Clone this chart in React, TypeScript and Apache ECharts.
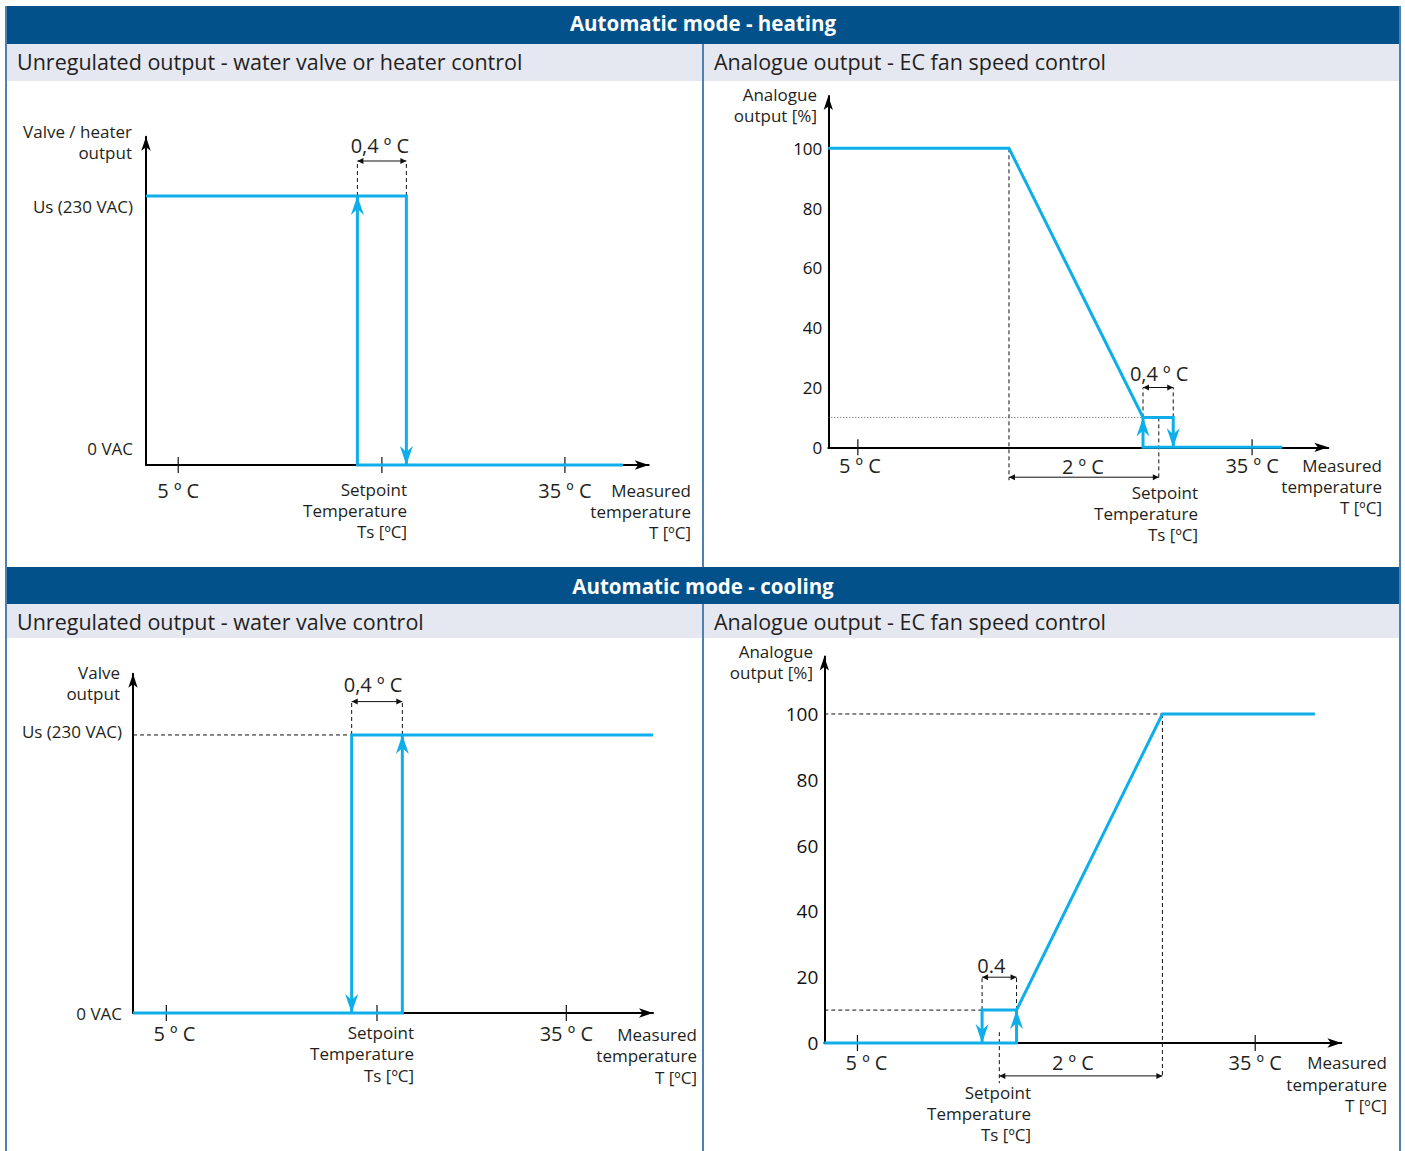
import React, { useEffect, useRef } from 'react';
import * as echarts from 'echarts';

const BLUE = '#0eaeea';
const INK = '#231f20';
const NAVY = '#02518a';
const PALE = '#e6e8f1';
const FRAME = '#4f80b0';
const FONT = '"Open Sans", "Noto Sans", sans-serif';

// ---- texts ----
const headerTitles = ['Automatic mode - heating', 'Automatic mode - cooling'];
const panelTitles = [
  'Unregulated output - water valve or heater control',
  'Analogue output - EC fan speed control',
  'Unregulated output - water valve control',
  'Analogue output - EC fan speed control',
];
const setpointLines = ['Setpoint', 'Temperature', 'Ts [ºC]'];
const measuredLines = ['Measured', 'temperature', 'T [ºC]'];
const valveHeaterName = ['Valve / heater', 'output'];
const valveName = ['Valve', 'output'];
const analogueName = ['Analogue', 'output [%]'];
const levelLabels = ['0 VAC', 'Us (230 VAC)'];
const ecYLabels = [0, 20, 40, 60, 80, 100];
const tempTickLabels = [5, 35];
const hystLabel = '0,4 º C';
const hystLabelCooling = '0.4';
const spanLabel = '2 º C';

// ---- panel 1: heating, unregulated (0 = 0 VAC, 1 = Us) ----
const p1X = [2.5, 41.5];
const p1Y = [0, 1.22];
const p1Ticks = [5, 20.8, 35];
const p1OffPath = [[2.5, 1], [22.7, 1], [22.7, 0]];
const p1OnPath = [[39.5, 0], [18.9, 0], [18.9, 1]];
const p1Band = [18.9, 22.7];
const p1BandDim = 1.13;

// ---- panel 2: heating, analogue [%] ----
const p2X = [2.75, 40.8];
const p2Y = [0, 117.5];
const p2Ticks = [5, 35];
const p2RampPath = [[2.75, 100], [16.5, 100], [26.7, 10], [29.0, 10], [29.0, 0]];
const p2OnPath = [[37.3, 0], [26.7, 0], [26.7, 10]];
const p2Band = [26.7, 29.0];
const p2BandLevel = 10;
const p2BandDim = 20;
const p2Span = [16.5, 27.9]; // ramp start -> setpoint (2 ºC)
const p2SpanDim = -10;
const p2GuideBottom = -11;

// ---- panel 3: cooling, unregulated ----
const p3X = [2.5, 41.5];
const p3Y = [0, 1.22];
const p3Ticks = [5, 20.8, 35];
const p3OffPath = [[41.5, 1], [18.9, 1], [18.9, 0]];
const p3OnPath = [[2.5, 0], [22.7, 0], [22.7, 1]];
const p3Band = [18.9, 22.7];
const p3BandDim = 1.12;

// ---- panel 4: cooling, analogue [%] ----
const p4X = [2.5, 41.5];
const p4Y = [0, 117.5];
const p4Ticks = [5, 35];
const p4RampPath = [[2.5, 0], [17.0, 0], [17.0, 10], [28.0, 100], [39.5, 100]];
const p4OffPath = [[17.0, 10], [14.4, 10], [14.4, 0]];
const p4Band = [14.4, 17.0];
const p4BandLevel = 10;
const p4BandDim = 20;
const p4Span = [15.7, 28.0]; // setpoint -> full output (2 ºC)
const p4SpanDim = -10;
const p4SetpointGuide = [3.3, -12.2];
const p4RampEndBottom = -10.3;

// ---- drawing helpers ----
const DASH = { stroke: '#111', lineWidth: 1, lineDash: [4, 3] };
const DOT = { stroke: '#555', lineWidth: 1, lineDash: [1, 2] };

function seg(api: any, a: number[], b: number[], style: any) {
  const p = api.coord(a);
  const q = api.coord(b);
  return { type: 'line', shape: { x1: p[0], y1: p[1], x2: q[0], y2: q[1] }, style };
}
function tick(api: any, x: number) {
  const p = api.coord([x, 0]);
  return { type: 'line', shape: { x1: p[0], y1: p[1] - 8, x2: p[0], y2: p[1] + 8 }, style: { stroke: '#111', lineWidth: 1.2 } };
}
function dim(api: any, x1: number, x2: number, y: number) {
  const p = api.coord([x1, y]);
  const q = api.coord([x2, y]);
  return [
    { type: 'line', shape: { x1: p[0], y1: p[1], x2: q[0], y2: q[1] }, style: { stroke: '#111', lineWidth: 1 } },
    { type: 'polygon', shape: { points: [[p[0], p[1]], [p[0] + 6, p[1] - 3], [p[0] + 6, p[1] + 3]] }, style: { fill: '#111' } },
    { type: 'polygon', shape: { points: [[q[0], q[1]], [q[0] - 6, q[1] - 3], [q[0] - 6, q[1] + 3]] }, style: { fill: '#111' } },
  ];
}
function label(api: any, x: number, y: number, dx: number, dy: number, text: string) {
  const p = api.coord([x, y]);
  return {
    type: 'text', x: p[0] + dx, y: p[1] + dy,
    style: { text, fill: INK, font: `20px ${FONT}`, align: 'center', verticalAlign: 'middle', textAlign: 'center', textVerticalAlign: 'middle' },
  };
}
function head(api: any, x: number, y: number, up: boolean) {
  const p = api.coord([x, y]);
  const s = up ? 1 : -1;
  return {
    type: 'polygon',
    shape: { points: [[p[0], p[1]], [p[0] + 6.5, p[1] + 19 * s], [p[0], p[1] + 13 * s], [p[0] - 6.5, p[1] + 19 * s]] },
    style: { fill: BLUE },
  };
}
const mid = (r: number[]) => (r[0] + r[1]) / 2;

// ---- per-panel annotations ----
const annotate = [
  (api: any) => [
    ...p1Ticks.map((t) => tick(api, t)),
    seg(api, [p1Band[0], 1], [p1Band[0], p1BandDim], DASH),
    seg(api, [p1Band[1], 1], [p1Band[1], p1BandDim], DASH),
    ...dim(api, p1Band[0], p1Band[1], p1BandDim),
    label(api, mid(p1Band), p1BandDim, -2, -16, hystLabel),
  ],
  (api: any) => [
    ...p2Ticks.map((t) => tick(api, t)),
    seg(api, [p2Span[0], 100], [p2Span[0], p2GuideBottom], DASH),
    seg(api, [p2X[0], p2BandLevel], [p2Band[0], p2BandLevel], DOT),
    seg(api, [p2Band[0], p2BandLevel], [p2Band[0], p2BandDim], DASH),
    seg(api, [p2Band[1], p2BandLevel], [p2Band[1], p2BandDim], DASH),
    ...dim(api, p2Band[0], p2Band[1], p2BandDim),
    label(api, mid(p2Band), p2BandDim, 1, -14, hystLabel),
    seg(api, [p2Span[1], p2BandLevel], [p2Span[1], p2GuideBottom], DASH),
    ...dim(api, p2Span[0], p2Span[1], p2SpanDim),
    label(api, mid(p2Span), p2SpanDim, -1, -11, spanLabel),
  ],
  (api: any) => [
    ...p3Ticks.map((t) => tick(api, t)),
    seg(api, [p3X[0], 1], [p3Band[0], 1], DASH),
    seg(api, [p3Band[0], 1], [p3Band[0], p3BandDim], DASH),
    seg(api, [p3Band[1], 1], [p3Band[1], p3BandDim], DASH),
    ...dim(api, p3Band[0], p3Band[1], p3BandDim),
    label(api, mid(p3Band), p3BandDim, -4, -17, hystLabel),
  ],
  (api: any) => [
    ...p4Ticks.map((t) => tick(api, t)),
    seg(api, [p4X[0], 100], [p4Span[1], 100], DASH),
    seg(api, [p4Span[1], 100], [p4Span[1], p4RampEndBottom], DASH),
    seg(api, [p4X[0], p4BandLevel], [p4Band[0], p4BandLevel], DASH),
    seg(api, [p4Band[0], p4BandLevel], [p4Band[0], p4BandDim], DASH),
    seg(api, [p4Band[1], p4BandLevel], [p4Band[1], p4BandDim], DASH),
    ...dim(api, p4Band[0], p4Band[1], p4BandDim),
    label(api, mid(p4Band), p4BandDim, -8, -12, hystLabelCooling),
    seg(api, [p4Span[0], p4SetpointGuide[0]], [p4Span[0], p4SetpointGuide[1]], DASH),
    ...dim(api, p4Span[0], p4Span[1], p4SpanDim),
    label(api, mid(p4Span), p4SpanDim, -8, -13, spanLabel),
  ],
];
const arrowHeads = [
  (api: any) => [head(api, p1Band[0], 1, true), head(api, p1Band[1], 0, false)],
  (api: any) => [head(api, p2Band[0], p2BandLevel, true), head(api, p2Band[1], 0, false)],
  (api: any) => [head(api, p3Band[0], 0, false), head(api, p3Band[1], 1, true)],
  (api: any) => [head(api, p4Band[0], 0, false), head(api, p4Band[1], p4BandLevel, true)],
];

const grids = [
  { left: 146, top: 136.8, width: 502.7, height: 328.2 },
  { left: 828.3, top: 96.0, width: 500.0, height: 351.3 },
  { left: 133, top: 673.8, width: 520, height: 339.2 },
  { left: 824.3, top: 656.4, width: 517.1, height: 386.6 },
];
const xRanges = [p1X, p2X, p3X, p4X];
const yRanges = [p1Y, p2Y, p3Y, p4Y];
const xLabelMargins = [15, 8, 10, 9];
// left padding of the "5 º C" label (shifts it right of its tick in the lower panels)
const firstLabelShift = [0, 4, 16, 18];
const yLabelSizes = [17, 17, 17, 19];
const bluePaths = [
  [p1OffPath, p1OnPath],
  [p2RampPath, p2OnPath],
  [p3OffPath, p3OnPath],
  [p4RampPath, p4OffPath],
];

function txt(x: number, y: number, text: string, size: number, align: string, color = INK, weight = 'normal') {
  return {
    type: 'text', x, y, silent: true,
    style: {
      text, fill: color, font: `${weight} ${size}px ${FONT}`,
      align, verticalAlign: 'middle', textAlign: align, textVerticalAlign: 'middle',
    },
  };
}
function multi(x: number, ys: number[], lines: string[], size = 17) {
  return lines.map((l, i) => txt(x, ys[i], l, size, 'right'));
}
function vline(x: number, y1: number, y2: number, color: string, w: number) {
  return { type: 'line', silent: true, shape: { x1: x, y1, x2: x, y2 }, style: { stroke: color, lineWidth: w } };
}

function buildGraphic() {
  const els: any[] = [
    { type: 'rect', shape: { x: 5, y: 6, width: 1396, height: 38 }, style: { fill: NAVY } },
    { type: 'rect', shape: { x: 5, y: 44, width: 1396, height: 37 }, style: { fill: PALE } },
    { type: 'rect', shape: { x: 5, y: 567, width: 1396, height: 37 }, style: { fill: NAVY } },
    { type: 'rect', shape: { x: 5, y: 604, width: 1396, height: 34 }, style: { fill: PALE } },
    vline(6, 6, 1151, FRAME, 2),
    vline(1400, 6, 1151, FRAME, 2),
    vline(703, 44, 567, FRAME, 2),
    vline(703, 604, 1151, FRAME, 2),
    txt(703, 23, headerTitles[0], 20.5, 'center', '#ffffff', 'bold'),
    txt(703, 586, headerTitles[1], 20.5, 'center', '#ffffff', 'bold'),
    txt(17, 61, panelTitles[0], 21.5, 'left'),
    txt(714, 61, panelTitles[1], 21.5, 'left'),
    txt(17, 621, panelTitles[2], 21.5, 'left'),
    txt(714, 621, panelTitles[3], 21.5, 'left'),
    // panel 1
    ...multi(132, [131, 152], valveHeaterName),
    txt(133, 206, levelLabels[1], 17, 'right'),
    txt(133, 448, levelLabels[0], 17, 'right'),
    ...multi(407, [489, 510, 531], setpointLines),
    ...multi(691, [490, 511, 532], measuredLines),
    // panel 2
    ...multi(817, [94, 115], analogueName),
    ...multi(1198, [492, 513, 534], setpointLines),
    ...multi(1382, [465, 486, 507], measuredLines),
    // panel 3
    ...multi(120, [672, 693], valveName),
    txt(122, 731, levelLabels[1], 17, 'right'),
    txt(122, 1013, levelLabels[0], 17, 'right'),
    ...multi(414, [1032, 1053, 1075], setpointLines),
    ...multi(697, [1034, 1055, 1077], measuredLines),
    // panel 4
    ...multi(813, [651, 672], analogueName),
    ...multi(1031, [1092, 1113, 1134], setpointLines),
    ...multi(1387, [1062, 1084, 1105], measuredLines),
  ];
  return els;
}

function buildOption(): any {
  const series: any[] = [];
  for (let i = 0; i < 4; i++) {
    series.push({
      type: 'custom', xAxisIndex: i, yAxisIndex: i, z: 1, silent: true, clip: false,
      data: [[xRanges[i][0], 0]],
      renderItem: (_p: any, api: any) => ({ type: 'group', children: annotate[i](api) }),
    });
    bluePaths[i].forEach((path, k) => {
      series.push({
        type: 'line', name: `output ${i}-${k}`, xAxisIndex: i, yAxisIndex: i, data: path,
        symbol: 'none', clip: false, silent: true, z: 3,
        lineStyle: { color: BLUE, width: 3, join: 'miter' }, itemStyle: { color: BLUE },
      });
    });
    series.push({
      type: 'custom', xAxisIndex: i, yAxisIndex: i, z: 4, silent: true, clip: false,
      data: [[xRanges[i][0], 0]],
      renderItem: (_p: any, api: any) => ({ type: 'group', children: arrowHeads[i](api) }),
    });
  }
  const axisLine = {
    show: true, onZero: false, symbol: ['none', 'arrow'], symbolSize: [7, 14],
    lineStyle: { color: '#000', width: 2 },
  };
  return {
    animation: false,
    textStyle: { fontFamily: FONT },
    graphic: { elements: buildGraphic() },
    grid: grids.map((g) => ({ ...g, containLabel: false, outerBoundsMode: 'none' })),
    xAxis: grids.map((_, i) => ({
      type: 'value', gridIndex: i, min: xRanges[i][0], max: xRanges[i][1],
      axisLine, axisTick: { show: false }, splitLine: { show: false },
      axisLabel: {
        customValues: tempTickLabels,
        formatter: (v: number) => (v === tempTickLabels[0] ? `{first|${v} º C}` : `{other|${v} º C}`),
        rich: {
          first: { fontSize: 20, color: INK, fontFamily: FONT, padding: [0, 0, 0, firstLabelShift[i]] },
          other: { fontSize: 20, color: INK, fontFamily: FONT },
        },
        fontSize: 20, color: INK, fontFamily: FONT, margin: xLabelMargins[i],
      },
    })),
    yAxis: grids.map((_, i) => ({
      type: 'value', gridIndex: i, min: yRanges[i][0], max: yRanges[i][1],
      axisLine, axisTick: { show: false }, splitLine: { show: false },
      axisLabel: i % 2 === 1
        ? { customValues: ecYLabels, fontSize: yLabelSizes[i], color: '#111', fontFamily: FONT, margin: 6 }
        : { show: false },
    })),
    series,
  };
}

export default function App() {
  const ref = useRef<HTMLDivElement>(null);
  useEffect(() => {
    const chart = echarts.init(ref.current as HTMLDivElement, null, { renderer: 'svg' });
    chart.setOption(buildOption());
    return () => chart.dispose();
  }, []);
  return (
    <div
      ref={ref}
      style={{ position: 'absolute', left: 0, top: 0, width: 1405, height: 1151, background: '#ffffff' }}
    />
  );
}
